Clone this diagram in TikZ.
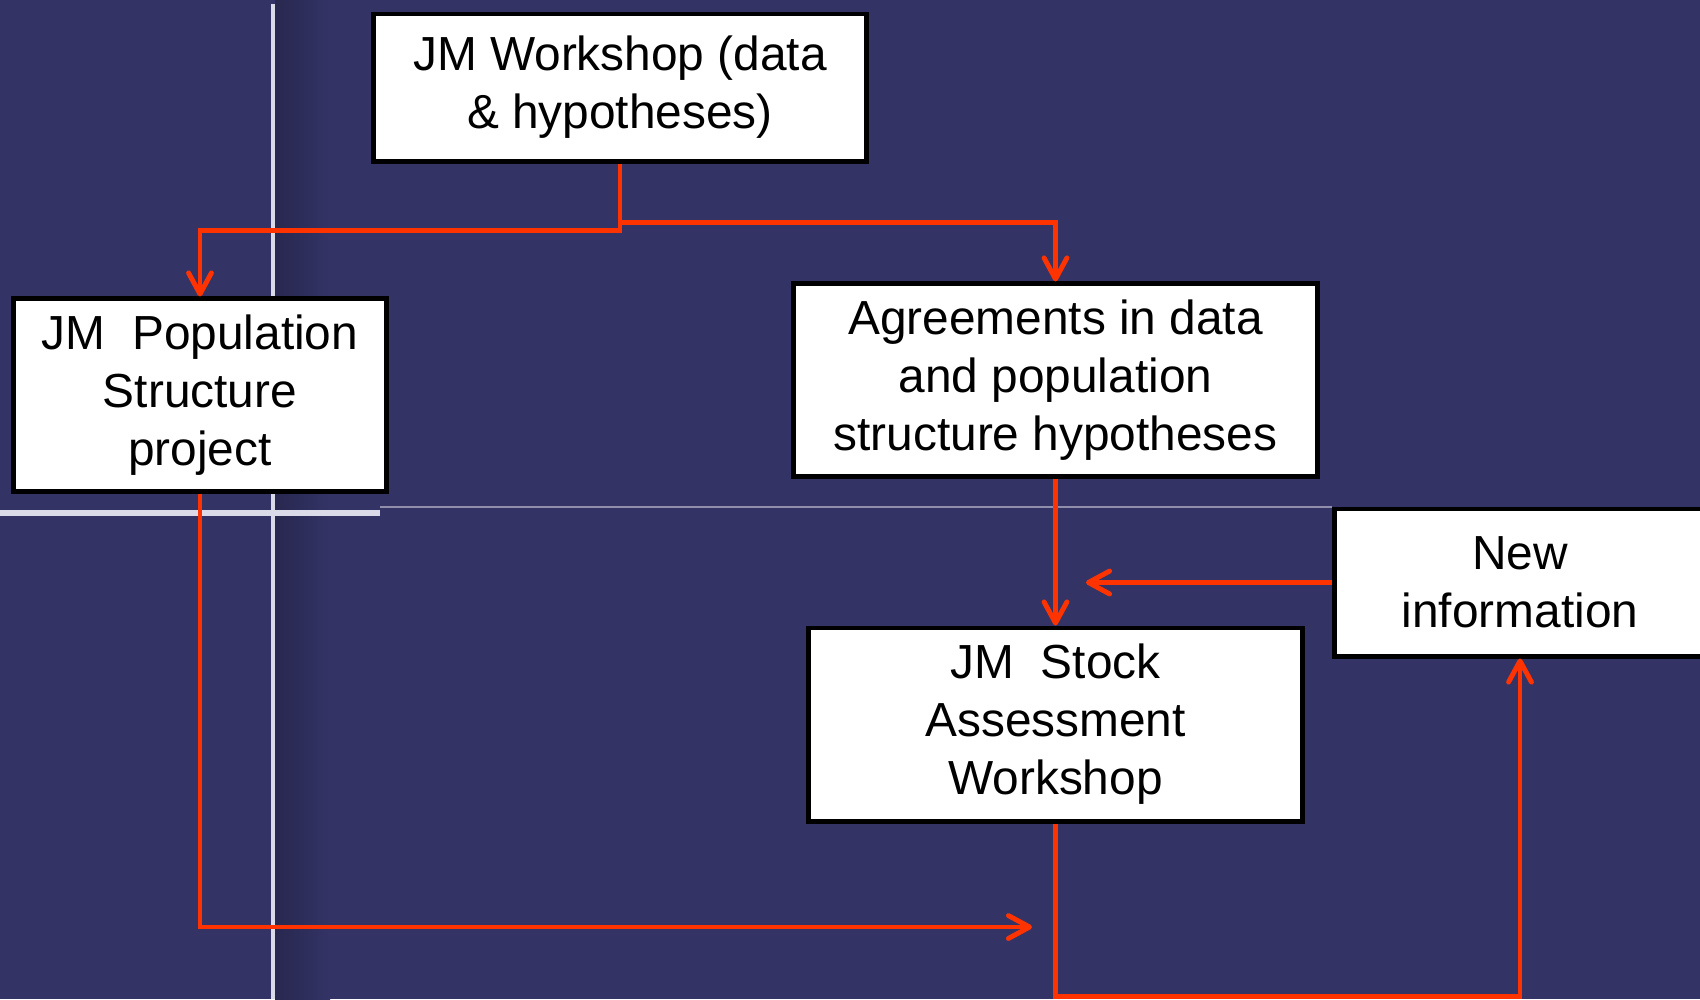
\documentclass[tikz,border=0pt]{standalone}
\usepackage{fontspec}
\setmainfont{Liberation Sans}
\usetikzlibrary{arrows.meta, positioning}

\definecolor{slidebg}{HTML}{333366}
\definecolor{linkred}{HTML}{FF3300}
\definecolor{rulewhite}{HTML}{DADAE8}

\begin{document}
\begin{tikzpicture}[
    x=0.01cm,
    y=-0.01cm,
    thick,
    font=\fontsize{13.6}{16.5}\selectfont
  ]

  % Styles
  \tikzstyle{block}=[draw=black, line width=1.4pt, fill=white, align=center, inner sep=0pt]
  \tikzstyle{link}=[draw=linkred, line width=1.4pt, -{Straight Barb[length=6pt, width=6.5pt, round]}]

  % Slide background
  \useasboundingbox (0,0) rectangle (1700,999);
  \clip (0,0) rectangle (1700,999);
  \fill[slidebg] (0,0) rectangle (1700,999);
  \shade[left color=black!22!slidebg, right color=slidebg] (275,0) rectangle (330,999);
  \draw[rulewhite, line width=1.2pt] (273,4) -- (273,999);
  \draw[rulewhite, line width=1.6pt] (0,513) -- (380,513);
  \draw[slidebg!55!white, line width=0.3pt] (380,507) -- (1332,507);

  % Boxes
  \node[block, minimum width=4.92cm, minimum height=1.47cm] (ws) at (620,87.5) {JM Workshop (data\\\& hypotheses)};
  \node[block, minimum width=3.72cm, minimum height=1.92cm] (pop) at (200,395) {JM\ \ Population\\Structure\\project};
  \node[block, minimum width=5.23cm, minimum height=1.92cm] (agree) at (1055.5,380) {Agreements in data\\and population\\structure hypotheses};
  \node[block, minimum width=3.70cm, minimum height=1.47cm] (newinfo) at (1520,582.5) {New\\information};
  \node[block, minimum width=4.93cm, minimum height=1.93cm] (stock) at (1055.5,724.5) {JM\ \ Stock\\Assessment\\Workshop};

  % Free ends
  \coordinate (ni-end) at (1086,582.5);
  \coordinate (pop-end) at (1032,927);

  % Arrows between boxes
  \draw[link] (ws.south) -- ++(0,67) -| (pop.north);
  \draw[link] (ws.south) -- ++(0,59) -| (agree.north);
  \draw[link] (agree.south) -- (stock.north);
  \draw[link] (newinfo.west) -- (ni-end);
  \draw[link] (pop.south) |- (pop-end);
  \draw[link] (stock.south) -- ++(0,173) -| (newinfo.south);

\end{tikzpicture}
\end{document}
